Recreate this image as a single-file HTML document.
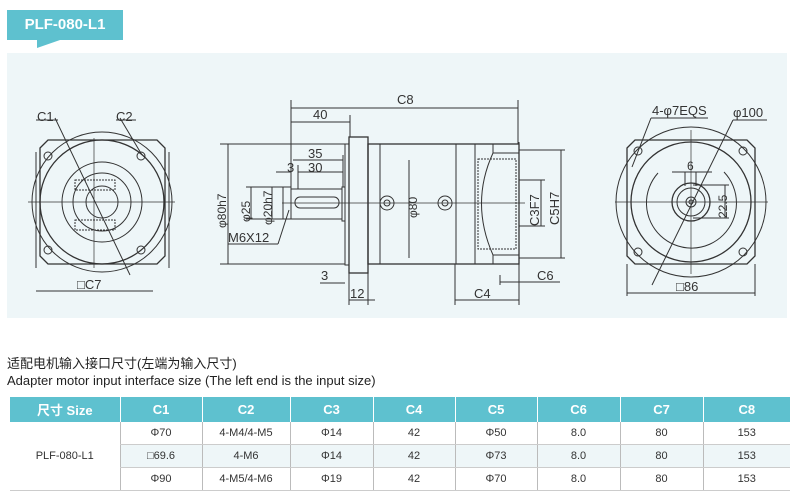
<!DOCTYPE html>
<html><head><meta charset="utf-8"><style>
body{margin:0;width:800px;height:498px;background:#fff;overflow:hidden;position:relative;font-family:"Liberation Sans","Noto Sans CJK SC",sans-serif}
.tag{position:absolute;left:7px;top:10px;width:116px;height:30px;background:#5ec1cf;color:#fff;font-weight:bold;font-size:15px;line-height:30px;text-align:center}
.tag:after{content:"";position:absolute;left:30px;top:30px;border-left:23px solid #5ec1cf;border-bottom:8px solid transparent}
.panel{position:absolute;left:7px;top:53px;width:780px;height:265px;background:#eef6f8}
.t1{position:absolute;left:7px;top:353px;font-size:13px;color:#222}
.t2{position:absolute;left:7px;top:373px;font-size:13px;color:#222}
table{position:absolute;left:10px;top:397px;width:780px;border-collapse:collapse;table-layout:fixed;font-size:11px;color:#333}
th{background:#5ec1cf;color:#fff;height:25px;padding:0;font-size:13px;font-weight:bold;border-left:1px solid #fff}
td{height:22px;padding:0;text-align:center;border-left:1px solid #bbb;border-bottom:1px solid #ccc}
tr.m td{background:#eef6f8}
td.f{background:#fff!important;border-left:none}
</style></head><body>
<div class="tag">PLF-080-L1</div>
<div class="panel"></div>
<svg style="position:absolute;left:0;top:0" width="800" height="330" fill="none" stroke="#333" stroke-width="1" font-family="Liberation Sans,sans-serif" font-size="13">
<g>
<path d="M40 148 L48 140 L157 140 L165 148 L165 256 L157 264 L48 264 L40 256 Z" stroke-width="1.3"/>
<path d="M36 152 L36 268 M169 152 L169 268"/>
<circle cx="102" cy="202" r="70"/><circle cx="102" cy="202" r="62" stroke-width="1.3"/>
<circle cx="102" cy="202" r="40"/><circle cx="102" cy="202" r="29"/><circle cx="102" cy="202" r="16"/>
<circle cx="48" cy="156" r="4"/><circle cx="141" cy="156" r="4"/><circle cx="48" cy="250" r="4"/><circle cx="141" cy="250" r="4"/>
<line x1="28" y1="202" x2="175" y2="202" stroke-width=".7"/><line x1="94" y1="138" x2="94" y2="268" stroke-width=".7"/>
<line x1="55" y1="118" x2="130" y2="275"/><line x1="120" y1="118" x2="142" y2="155"/>
<line x1="36" y1="120" x2="58" y2="120"/><line x1="116" y1="120" x2="136" y2="120"/>
<rect x="75" y="180" width="40" height="10" stroke-dasharray="2 1"/><rect x="75" y="220" width="40" height="10" stroke-dasharray="2 1"/>
<line x1="36" y1="291" x2="153" y2="291"/>
<text x="37" y="121" fill="#333" stroke="none">C1</text><text x="116" y="121" fill="#333" stroke="none">C2</text>
<text x="77" y="289" fill="#333" stroke="none">□C7</text>
</g>
<g>
<rect x="291" y="189" width="51" height="30"/><rect x="342" y="187" width="3" height="34"/>
<rect x="295" y="197" width="44" height="11" rx="5"/>
<rect x="345" y="144" width="4" height="121"/><rect x="349" y="137" width="19" height="136" stroke-width="1.3"/>
<rect x="368" y="144" width="151" height="120" stroke-width="1.3"/>
<line x1="380" y1="144" x2="380" y2="264"/><line x1="456" y1="144" x2="456" y2="264"/><line x1="475" y1="144" x2="475" y2="264"/>
<path d="M493 144 L493 153 L519 153 M493 264 L493 255 L519 255 M493 153 Q470 203 493 255"/>
<rect x="478" y="159" width="38" height="90" stroke-dasharray="2 1"/>
<circle cx="387" cy="203" r="7"/><circle cx="387" cy="203" r="3"/><circle cx="445" cy="203" r="7"/><circle cx="445" cy="203" r="3"/>
<line x1="282" y1="203" x2="525" y2="203" stroke-width=".7"/>
<path d="M291 108 L518 108 M291 122 L350 122 M291 100 L291 189 M518 100 L518 144 M350 115 L350 137"/>
<path d="M293 160 L343 160 M298 172 L343 172 M298 165 L298 189 M343 155 L343 187 M276 172 L291 172"/>
<path d="M220 144 L345 144 M220 264 L345 264 M228 144 L228 264 M246 187 L291 187 M246 219 L291 219 M251 187 L251 219 M272 187 L272 219 M283 187 L283 219"/>
<line x1="228" y1="244" x2="278" y2="244"/><line x1="278" y1="244" x2="289" y2="210"/>
<path d="M320 283 L345 283 M349 300 L375 300 M349 273 L349 305 M368 273 L368 305 M409 160 L409 258"/>
<path d="M519 142 L519 305 M455 264 L455 305 M455 300 L519 300 M500 275 L500 285 M500 282 L560 282 M519 180 L545 180 M519 226 L545 226 M519 150 L565 150 M519 258 L565 258 M541 180 L541 226 M561 150 L561 258"/>
<g fill="#333" stroke="none">
<text x="397" y="104">C8</text><text x="313" y="119">40</text><text x="308" y="158">35</text><text x="308" y="172">30</text><text x="287" y="172">3</text>
<text x="228" y="242">M6X12</text><text x="321" y="280">3</text><text x="350" y="298">12</text>
<text x="474" y="298">C4</text><text x="537" y="280">C6</text>
<text transform="translate(226 228) rotate(-90)" font-size="12">φ80h7</text>
<text transform="translate(250 222) rotate(-90)" font-size="12">φ25</text>
<text transform="translate(272 225) rotate(-90)" font-size="12">φ20h7</text>
<text transform="translate(417 218) rotate(-90)" font-size="12">φ80</text>
<text transform="translate(539 226) rotate(-90)">C3F7</text>
<text transform="translate(559 225) rotate(-90)">C5H7</text>
</g>
</g>
<g>
<path d="M627 148 L635 140 L747 140 L755 148 L755 256 L747 264 L635 264 L627 256 Z" stroke-width="1.3"/>
<circle cx="691" cy="202" r="75"/><circle cx="691" cy="202" r="60" stroke-width="1.3"/>
<path d="M658 173 A45 45 0 1 0 724 172"/>
<circle cx="691" cy="202" r="19" stroke-width="1.3"/><circle cx="691" cy="202" r="14"/><circle cx="691" cy="202" r="5"/><circle cx="691" cy="202" r="2"/>
<circle cx="638" cy="151" r="4"/><circle cx="743" cy="151" r="4"/><circle cx="638" cy="252" r="4"/><circle cx="743" cy="252" r="4"/>
<line x1="615" y1="202" x2="768" y2="202" stroke-width=".7"/><line x1="691" y1="130" x2="691" y2="274" stroke-width=".7"/>
<path d="M651 118 L708 118 M651 118 L632 167 M733 120 L767 120 M733 120 L652 285"/>
<path d="M685 172 L685 186 M696 172 L696 186 M672 172 L712 172 M693 185 L729 185 M693 218 L729 218 M725 185 L725 218"/>
<path d="M627 264 L627 296 M755 264 L755 296 M627 293 L755 293"/>
<g fill="#333" stroke="none">
<text x="652" y="115">4-φ7EQS</text><text x="733" y="117">φ100</text><text x="687" y="170" font-size="12">6</text>
<text x="676" y="291">□86</text><text transform="translate(727 218) rotate(-90)" font-size="12">22.5</text>
</g>
</g>
</svg>
<div class="t1">适配电机输入接口尺寸(左端为输入尺寸)</div>
<div class="t2">Adapter motor input interface size (The left end is the input size)</div>
<table>
<colgroup><col style="width:110px"><col style="width:82px"><col style="width:88px"><col style="width:83px"><col style="width:82px"><col style="width:82px"><col style="width:83px"><col style="width:83px"><col style="width:87px"></colgroup>
<tr><th style="border-left:none">尺寸 Size</th><th>C1</th><th>C2</th><th>C3</th><th>C4</th><th>C5</th><th>C6</th><th>C7</th><th>C8</th></tr>
<tr><td class="f" rowspan="3">PLF-080-L1</td><td>Φ70</td><td>4-M4/4-M5</td><td>Φ14</td><td>42</td><td>Φ50</td><td>8.0</td><td>80</td><td>153</td></tr>
<tr class="m"><td>□69.6</td><td>4-M6</td><td>Φ14</td><td>42</td><td>Φ73</td><td>8.0</td><td>80</td><td>153</td></tr>
<tr><td>Φ90</td><td>4-M5/4-M6</td><td>Φ19</td><td>42</td><td>Φ70</td><td>8.0</td><td>80</td><td>153</td></tr>
</table>
</body></html>
